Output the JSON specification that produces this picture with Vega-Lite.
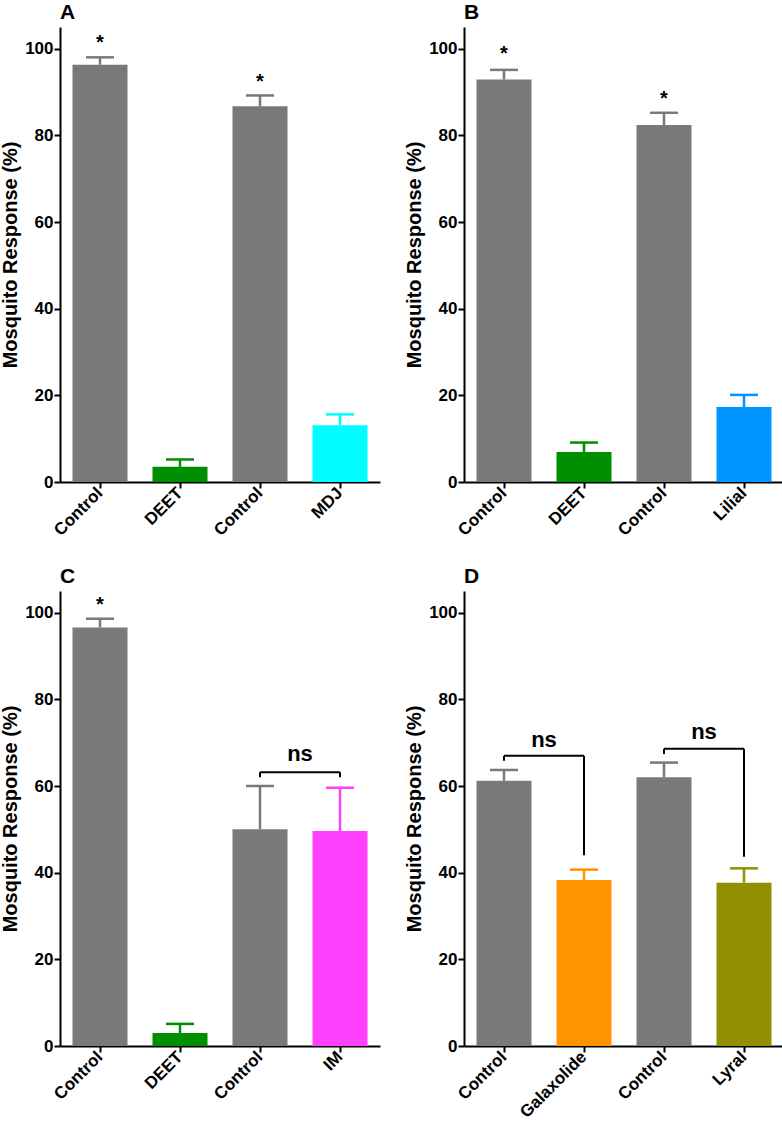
{
  "$schema": "https://vega.github.io/schema/vega-lite/v6.json",
  "background": "white",
  "padding": {"left": 0, "top": 2, "right": 0, "bottom": 0},
  "autosize": {"type": "pad"},
  "datasets": {
    "bars": [
      {"panel": "A", "cat": "Control", "group": "Control", "mean": 96.3, "upper": 98.0},
      {"panel": "A", "cat": "DEET", "group": "DEET", "mean": 3.5, "upper": 5.2},
      {"panel": "A", "cat": "Control ", "group": "Control", "mean": 86.7, "upper": 89.2},
      {"panel": "A", "cat": "MDJ", "group": "MDJ", "mean": 13.1, "upper": 15.6},
      {"panel": "B", "cat": "Control", "group": "Control", "mean": 92.9, "upper": 95.1},
      {"panel": "B", "cat": "DEET", "group": "DEET", "mean": 6.9, "upper": 9.1},
      {"panel": "B", "cat": "Control ", "group": "Control", "mean": 82.4, "upper": 85.2},
      {"panel": "B", "cat": "Lilial", "group": "Lilial", "mean": 17.3, "upper": 20.1},
      {"panel": "C", "cat": "Control", "group": "Control", "mean": 96.6, "upper": 98.6},
      {"panel": "C", "cat": "DEET", "group": "DEET", "mean": 3.0, "upper": 5.1},
      {"panel": "C", "cat": "Control ", "group": "Control", "mean": 50.0, "upper": 60.0},
      {"panel": "C", "cat": "IM", "group": "IM", "mean": 49.6, "upper": 59.6},
      {"panel": "D", "cat": "Control", "group": "Control", "mean": 61.2, "upper": 63.7},
      {"panel": "D", "cat": "Galaxolide", "group": "Galaxolide", "mean": 38.3, "upper": 40.7},
      {"panel": "D", "cat": "Control ", "group": "Control", "mean": 62.0, "upper": 65.4},
      {"panel": "D", "cat": "Lyral", "group": "Lyral", "mean": 37.7, "upper": 41.0}
    ],
    "stars": [
      {"panel": "A", "cat": "Control", "y": 101.7, "label": "*"},
      {"panel": "A", "cat": "Control ", "y": 92.8, "label": "*"},
      {"panel": "B", "cat": "Control", "y": 99.2, "label": "*"},
      {"panel": "B", "cat": "Control ", "y": 88.9, "label": "*"},
      {"panel": "C", "cat": "Control", "y": 102.2, "label": "*"}
    ],
    "ns": [
      {"panel": "C", "cat": "Control ", "y": 67.1, "label": "ns"},
      {"panel": "D", "cat": "Control", "y": 70.4, "label": "ns"},
      {"panel": "D", "cat": "Control ", "y": 72.2, "label": "ns"}
    ],
    "brackets": [
      {"panel": "C", "cat": "Control ", "cat2": "IM", "y": 63.2, "y2": 63.2},
      {"panel": "C", "cat": "Control ", "cat2": "Control ", "y": 63.2, "y2": 62.0},
      {"panel": "C", "cat": "IM", "cat2": "IM", "y": 63.2, "y2": 62.0},
      {"panel": "D", "cat": "Control", "cat2": "Galaxolide", "y": 67.0, "y2": 67.0},
      {"panel": "D", "cat": "Control", "cat2": "Control", "y": 67.0, "y2": 65.8},
      {"panel": "D", "cat": "Galaxolide", "cat2": "Galaxolide", "y": 67.0, "y2": 44.0},
      {"panel": "D", "cat": "Control ", "cat2": "Lyral", "y": 68.6, "y2": 68.6},
      {"panel": "D", "cat": "Control ", "cat2": "Control ", "y": 68.6, "y2": 67.4},
      {"panel": "D", "cat": "Lyral", "cat2": "Lyral", "y": 68.6, "y2": 43.7}
    ]
  },
  "columns": 2,
  "spacing": {"row": 27, "column": 24},
  "concat": [
    {
      "title": "A",
      "width": 320,
      "height": 455,
      "layer": [
        {"data": {"name": "bars"}, "transform": [{"filter": "datum.panel === 'A'"}],
         "mark": {"type": "bar"},
         "encoding": {
           "x": {"field": "cat", "type": "nominal", "scale": {"domain": ["Control", "DEET", "Control ", "MDJ"], "paddingInner": 0.3125, "paddingOuter": 0.15625}, "axis": {"title": null, "labelExpr": "trim(datum.label)"}},
           "y": {"field": "mean", "type": "quantitative", "scale": {"domain": [0, 105], "nice": false}, "axis": {"title": "Mosquito Response (%)", "values": [0, 20, 40, 60, 80, 100]}},
           "color": {"field": "group", "type": "nominal", "scale": {"domain": ["Control", "DEET", "MDJ", "Lilial", "IM", "Galaxolide", "Lyral"], "range": ["#797979", "#008f00", "#00fdff", "#0096ff", "#ff40ff", "#ff9300", "#929000"]}, "legend": null}
         }},
        {"data": {"name": "bars"}, "transform": [{"filter": "datum.panel === 'A'"}],
         "mark": {"type": "rule", "strokeWidth": 2.5},
         "encoding": {
           "x": {"field": "cat", "type": "nominal", "axis": {"title": null, "labelExpr": "trim(datum.label)"}},
           "y": {"field": "mean", "type": "quantitative", "axis": {"title": "Mosquito Response (%)", "values": [0, 20, 40, 60, 80, 100]}},
           "y2": {"field": "upper"},
           "color": {"field": "group", "type": "nominal", "legend": null}
         }},
        {"data": {"name": "bars"}, "transform": [{"filter": "datum.panel === 'A'"}],
         "mark": {"type": "tick", "size": 28, "thickness": 2.5, "opacity": 1},
         "encoding": {
           "x": {"field": "cat", "type": "nominal", "axis": {"title": null, "labelExpr": "trim(datum.label)"}},
           "y": {"field": "upper", "type": "quantitative", "axis": {"title": "Mosquito Response (%)", "values": [0, 20, 40, 60, 80, 100]}},
           "color": {"field": "group", "type": "nominal", "legend": null}
         }},
        {"data": {"name": "stars"}, "transform": [{"filter": "datum.panel === 'A'"}],
         "mark": {"type": "text", "fontSize": 20, "fontWeight": "bold", "baseline": "alphabetic", "dy": 8, "color": "black"},
         "encoding": {
           "x": {"field": "cat", "type": "nominal", "axis": {"title": null, "labelExpr": "trim(datum.label)"}},
           "y": {"field": "y", "type": "quantitative", "axis": {"title": "Mosquito Response (%)", "values": [0, 20, 40, 60, 80, 100]}},
           "text": {"field": "label"}
         }}
      ]
    },
    {
      "title": "B",
      "width": 320,
      "height": 455,
      "layer": [
        {"data": {"name": "bars"}, "transform": [{"filter": "datum.panel === 'B'"}],
         "mark": {"type": "bar"},
         "encoding": {
           "x": {"field": "cat", "type": "nominal", "scale": {"domain": ["Control", "DEET", "Control ", "Lilial"], "paddingInner": 0.3125, "paddingOuter": 0.15625}, "axis": {"title": null, "labelExpr": "trim(datum.label)"}},
           "y": {"field": "mean", "type": "quantitative", "scale": {"domain": [0, 105], "nice": false}, "axis": {"title": "Mosquito Response (%)", "values": [0, 20, 40, 60, 80, 100]}},
           "color": {"field": "group", "type": "nominal", "scale": {"domain": ["Control", "DEET", "MDJ", "Lilial", "IM", "Galaxolide", "Lyral"], "range": ["#797979", "#008f00", "#00fdff", "#0096ff", "#ff40ff", "#ff9300", "#929000"]}, "legend": null}
         }},
        {"data": {"name": "bars"}, "transform": [{"filter": "datum.panel === 'B'"}],
         "mark": {"type": "rule", "strokeWidth": 2.5},
         "encoding": {
           "x": {"field": "cat", "type": "nominal", "axis": {"title": null, "labelExpr": "trim(datum.label)"}},
           "y": {"field": "mean", "type": "quantitative", "axis": {"title": "Mosquito Response (%)", "values": [0, 20, 40, 60, 80, 100]}},
           "y2": {"field": "upper"},
           "color": {"field": "group", "type": "nominal", "legend": null}
         }},
        {"data": {"name": "bars"}, "transform": [{"filter": "datum.panel === 'B'"}],
         "mark": {"type": "tick", "size": 28, "thickness": 2.5, "opacity": 1},
         "encoding": {
           "x": {"field": "cat", "type": "nominal", "axis": {"title": null, "labelExpr": "trim(datum.label)"}},
           "y": {"field": "upper", "type": "quantitative", "axis": {"title": "Mosquito Response (%)", "values": [0, 20, 40, 60, 80, 100]}},
           "color": {"field": "group", "type": "nominal", "legend": null}
         }},
        {"data": {"name": "stars"}, "transform": [{"filter": "datum.panel === 'B'"}],
         "mark": {"type": "text", "fontSize": 20, "fontWeight": "bold", "baseline": "alphabetic", "dy": 8, "color": "black"},
         "encoding": {
           "x": {"field": "cat", "type": "nominal", "axis": {"title": null, "labelExpr": "trim(datum.label)"}},
           "y": {"field": "y", "type": "quantitative", "axis": {"title": "Mosquito Response (%)", "values": [0, 20, 40, 60, 80, 100]}},
           "text": {"field": "label"}
         }}
      ]
    },
    {
      "title": "C",
      "width": 320,
      "height": 455,
      "layer": [
        {"data": {"name": "bars"}, "transform": [{"filter": "datum.panel === 'C'"}],
         "mark": {"type": "bar"},
         "encoding": {
           "x": {"field": "cat", "type": "nominal", "scale": {"domain": ["Control", "DEET", "Control ", "IM"], "paddingInner": 0.3125, "paddingOuter": 0.15625}, "axis": {"title": null, "labelExpr": "trim(datum.label)"}},
           "y": {"field": "mean", "type": "quantitative", "scale": {"domain": [0, 105], "nice": false}, "axis": {"title": "Mosquito Response (%)", "values": [0, 20, 40, 60, 80, 100]}},
           "color": {"field": "group", "type": "nominal", "scale": {"domain": ["Control", "DEET", "MDJ", "Lilial", "IM", "Galaxolide", "Lyral"], "range": ["#797979", "#008f00", "#00fdff", "#0096ff", "#ff40ff", "#ff9300", "#929000"]}, "legend": null}
         }},
        {"data": {"name": "bars"}, "transform": [{"filter": "datum.panel === 'C'"}],
         "mark": {"type": "rule", "strokeWidth": 2.5},
         "encoding": {
           "x": {"field": "cat", "type": "nominal", "axis": {"title": null, "labelExpr": "trim(datum.label)"}},
           "y": {"field": "mean", "type": "quantitative", "axis": {"title": "Mosquito Response (%)", "values": [0, 20, 40, 60, 80, 100]}},
           "y2": {"field": "upper"},
           "color": {"field": "group", "type": "nominal", "legend": null}
         }},
        {"data": {"name": "bars"}, "transform": [{"filter": "datum.panel === 'C'"}],
         "mark": {"type": "tick", "size": 28, "thickness": 2.5, "opacity": 1},
         "encoding": {
           "x": {"field": "cat", "type": "nominal", "axis": {"title": null, "labelExpr": "trim(datum.label)"}},
           "y": {"field": "upper", "type": "quantitative", "axis": {"title": "Mosquito Response (%)", "values": [0, 20, 40, 60, 80, 100]}},
           "color": {"field": "group", "type": "nominal", "legend": null}
         }},
        {"data": {"name": "stars"}, "transform": [{"filter": "datum.panel === 'C'"}],
         "mark": {"type": "text", "fontSize": 20, "fontWeight": "bold", "baseline": "alphabetic", "dy": 8, "color": "black"},
         "encoding": {
           "x": {"field": "cat", "type": "nominal", "axis": {"title": null, "labelExpr": "trim(datum.label)"}},
           "y": {"field": "y", "type": "quantitative", "axis": {"title": "Mosquito Response (%)", "values": [0, 20, 40, 60, 80, 100]}},
           "text": {"field": "label"}
         }},
        {"data": {"name": "brackets"}, "transform": [{"filter": "datum.panel === 'C'"}],
         "mark": {"type": "rule", "color": "black", "strokeWidth": 2},
         "encoding": {
           "x": {"field": "cat", "type": "nominal", "axis": {"title": null, "labelExpr": "trim(datum.label)"}},
           "x2": {"field": "cat2"},
           "y": {"field": "y", "type": "quantitative", "axis": {"title": "Mosquito Response (%)", "values": [0, 20, 40, 60, 80, 100]}},
           "y2": {"field": "y2"}
         }},
        {"data": {"name": "ns"}, "transform": [{"filter": "datum.panel === 'C'"}],
         "mark": {"type": "text", "fontSize": 22, "fontWeight": "bold", "baseline": "alphabetic", "dx": 40, "dy": 6, "color": "black"},
         "encoding": {
           "x": {"field": "cat", "type": "nominal", "axis": {"title": null, "labelExpr": "trim(datum.label)"}},
           "y": {"field": "y", "type": "quantitative", "axis": {"title": "Mosquito Response (%)", "values": [0, 20, 40, 60, 80, 100]}},
           "text": {"field": "label"}
         }}
      ]
    },
    {
      "title": "D",
      "width": 320,
      "height": 455,
      "layer": [
        {"data": {"name": "bars"}, "transform": [{"filter": "datum.panel === 'D'"}],
         "mark": {"type": "bar"},
         "encoding": {
           "x": {"field": "cat", "type": "nominal", "scale": {"domain": ["Control", "Galaxolide", "Control ", "Lyral"], "paddingInner": 0.3125, "paddingOuter": 0.15625}, "axis": {"title": null, "labelExpr": "trim(datum.label)"}},
           "y": {"field": "mean", "type": "quantitative", "scale": {"domain": [0, 105], "nice": false}, "axis": {"title": "Mosquito Response (%)", "values": [0, 20, 40, 60, 80, 100]}},
           "color": {"field": "group", "type": "nominal", "scale": {"domain": ["Control", "DEET", "MDJ", "Lilial", "IM", "Galaxolide", "Lyral"], "range": ["#797979", "#008f00", "#00fdff", "#0096ff", "#ff40ff", "#ff9300", "#929000"]}, "legend": null}
         }},
        {"data": {"name": "bars"}, "transform": [{"filter": "datum.panel === 'D'"}],
         "mark": {"type": "rule", "strokeWidth": 2.5},
         "encoding": {
           "x": {"field": "cat", "type": "nominal", "axis": {"title": null, "labelExpr": "trim(datum.label)"}},
           "y": {"field": "mean", "type": "quantitative", "axis": {"title": "Mosquito Response (%)", "values": [0, 20, 40, 60, 80, 100]}},
           "y2": {"field": "upper"},
           "color": {"field": "group", "type": "nominal", "legend": null}
         }},
        {"data": {"name": "bars"}, "transform": [{"filter": "datum.panel === 'D'"}],
         "mark": {"type": "tick", "size": 28, "thickness": 2.5, "opacity": 1},
         "encoding": {
           "x": {"field": "cat", "type": "nominal", "axis": {"title": null, "labelExpr": "trim(datum.label)"}},
           "y": {"field": "upper", "type": "quantitative", "axis": {"title": "Mosquito Response (%)", "values": [0, 20, 40, 60, 80, 100]}},
           "color": {"field": "group", "type": "nominal", "legend": null}
         }},
        {"data": {"name": "brackets"}, "transform": [{"filter": "datum.panel === 'D'"}],
         "mark": {"type": "rule", "color": "black", "strokeWidth": 2},
         "encoding": {
           "x": {"field": "cat", "type": "nominal", "axis": {"title": null, "labelExpr": "trim(datum.label)"}},
           "x2": {"field": "cat2"},
           "y": {"field": "y", "type": "quantitative", "axis": {"title": "Mosquito Response (%)", "values": [0, 20, 40, 60, 80, 100]}},
           "y2": {"field": "y2"}
         }},
        {"data": {"name": "ns"}, "transform": [{"filter": "datum.panel === 'D'"}],
         "mark": {"type": "text", "fontSize": 22, "fontWeight": "bold", "baseline": "alphabetic", "dx": 40, "dy": 6, "color": "black"},
         "encoding": {
           "x": {"field": "cat", "type": "nominal", "axis": {"title": null, "labelExpr": "trim(datum.label)"}},
           "y": {"field": "y", "type": "quantitative", "axis": {"title": "Mosquito Response (%)", "values": [0, 20, 40, 60, 80, 100]}},
           "text": {"field": "label"}
         }}
      ]
    }
  ],
  "config": {
    "font": "Liberation Sans",
    "view": {"stroke": null},
    "axis": {
      "domainColor": "black", "domainWidth": 2, "tickColor": "black", "tickWidth": 2, "tickSize": 6,
      "labelColor": "black", "labelFont": "Liberation Sans", "labelFontSize": 17, "labelFontWeight": "bold", "labelPadding": 1,
      "titleColor": "black", "titleFont": "Liberation Sans", "titleFontSize": 20, "titleFontWeight": "bold",
      "grid": false
    },
    "axisY": {"titlePadding": 4},
    "axisX": {"labelAngle": -45, "labelAlign": "right", "labelBaseline": "middle", "labelPadding": 2},
    "title": {"font": "Liberation Sans", "fontSize": 21, "fontWeight": "bold", "color": "black", "anchor": "start", "align": "center", "baseline": "alphabetic", "frame": "group", "offset": 4}
  }
}
